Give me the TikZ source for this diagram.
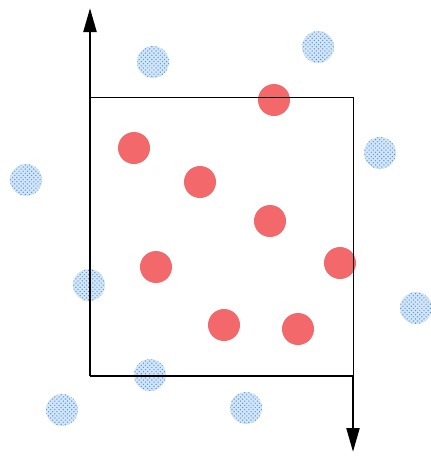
\documentclass[tikz,border=0pt]{standalone}
\usepackage{tikz}
\usetikzlibrary{arrows.meta,patterns}

\definecolor{dotred}{RGB}{243,104,106}
\definecolor{dotblue}{RGB}{80,150,220}

\begin{document}
\begin{tikzpicture}[x=0.025cm, y=-0.025cm,
        inside/.style={circle, fill=dotred, minimum size=0.8cm, inner sep=0pt},
        outside/.style={circle, preaction={fill=dotblue!25},
            pattern=crosshatch dots, pattern color=dotblue,
            minimum size=0.8cm, inner sep=0pt},
        axis/.style={line width=2pt, -{Triangle[length=0.6cm, width=0.32cm]}},
        frame/.style={line width=0.6pt}
    ]
        \useasboundingbox (0,0) rectangle (430,456);

        % corners of the box
        \coordinate (o)  at (90,376);
        \coordinate (tl) at (90,97);
        \coordinate (tr) at (353,97);
        \coordinate (br) at (353,376);
        \coordinate (ytip) at (90,8);
        \coordinate (dtip) at (353,452);

        % points outside the box
        \node[outside] (q1) at (153,62) {};
        \node[outside] (q2) at (318,47) {};
        \node[outside] (q3) at (380,153) {};
        \node[outside] (q4) at (26,180) {};
        \node[outside] (q5) at (89,285) {};
        \node[outside] (q6) at (416,308) {};
        \node[outside] (q7) at (150,375) {};
        \node[outside] (q8) at (62,410) {};
        \node[outside] (q9) at (246,408) {};

        % points inside the box
        \node[inside] (p1) at (274,100) {};
        \node[inside] (p2) at (134,148) {};
        \node[inside] (p3) at (200,182) {};
        \node[inside] (p4) at (270,221) {};
        \node[inside] (p5) at (156,267) {};
        \node[inside] (p6) at (340,263) {};
        \node[inside] (p7) at (224,325) {};
        \node[inside] (p8) at (298,329) {};

        % box and axes
        \draw[frame] (tl) -- (tr) -- (br);
        \draw[line width=2pt] (o) -- (br);
        \draw[axis] (o) -- (ytip);
        \draw[axis] (br) -- (dtip);
    \end{tikzpicture}
\end{document}
